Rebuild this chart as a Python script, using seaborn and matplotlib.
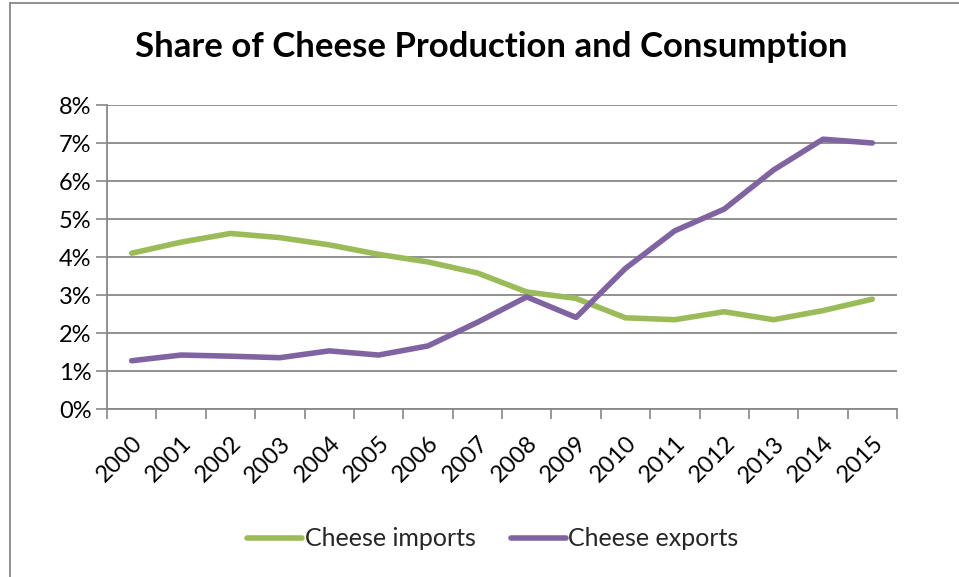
import matplotlib
matplotlib.use("Agg")
import matplotlib.pyplot as plt
import seaborn as sns
import pandas as pd
import numpy as np
from matplotlib.lines import Line2D
from matplotlib.ticker import FuncFormatter, FixedLocator

years = [str(y) for y in range(2000, 2016)]
imports = [4.10, 4.39, 4.62, 4.51, 4.32, 4.07, 3.87, 3.58, 3.08, 2.91, 2.40, 2.35, 2.56, 2.35, 2.59, 2.89]
exports = [1.27, 1.42, 1.39, 1.35, 1.53, 1.42, 1.66, 2.28, 2.95, 2.41, 3.70, 4.69, 5.26, 6.29, 7.10, 7.00]
series_names = ["Cheese imports", "Cheese exports"]
colors = ["#9BBB59", "#8064A2"]
title = "Share of Cheese Production and Consumption"
yticks = list(range(0, 9))

df = pd.DataFrame({
    "pos": list(range(len(years))) * 2,
    "value": imports + exports,
    "series": [series_names[0]] * len(years) + [series_names[1]] * len(years),
})

sns.set_theme(style="white")
plt.rcParams["font.family"] = ["Lato", "DejaVu Sans"]

fig = plt.figure(figsize=(9.59, 5.77), dpi=100)
ax = fig.add_axes([107/959, 1 - 409/577, (897-107)/959, (409-105)/577])

sns.lineplot(data=df, x="pos", y="value", hue="series", palette=colors,
             linewidth=4.0, ax=ax, legend=False, solid_capstyle="round")

ax.set_xlim(-0.5, len(years) - 0.5)
ax.set_ylim(0, 8)
ax.set_yticks(yticks)
ax.yaxis.set_major_formatter(FuncFormatter(lambda v, p: f"{int(v)}%"))
ax.grid(axis="y", color="#888888", linewidth=1.3)
ax.set_axisbelow(True)

# x: labels at category centres, tick marks at boundaries
ax.set_xticks(range(len(years)))
ax.set_xticklabels(years, rotation=45, ha="right", rotation_mode="anchor")
ax.xaxis.set_minor_locator(FixedLocator(np.arange(-0.5, len(years), 1.0)))
ax.tick_params(axis="x", which="major", length=0, pad=17, labelsize=17, colors="black")
ax.tick_params(axis="x", which="minor", length=7, width=1.2, color="#888888", direction="out", bottom=True)
ax.tick_params(axis="y", which="major", length=8, width=1.2, color="#888888", direction="out",
               left=True, labelsize=17, pad=3, labelcolor="black")
ax.set_xlabel("")
ax.set_ylabel("")

for s in ["top", "right"]:
    ax.spines[s].set_visible(False)
for s in ["left", "bottom"]:
    ax.spines[s].set_color("#888888")
    ax.spines[s].set_linewidth(1.3)

fig.text(491/959, 1 - 47/577, title, ha="center", va="center",
         fontsize=25, fontweight="bold", color="black")

handles = [Line2D([0], [0], color=c, lw=4.0, solid_capstyle="round") for c in colors]
fig.legend(handles, series_names, loc="center", bbox_to_anchor=(493/959, 1 - 539/577),
           ncol=2, frameon=False, fontsize=18, handlelength=2.2, handletextpad=0.1,
           columnspacing=1.4)

# chart border (left and top edges visible)
fig.add_artist(Line2D([9.5/959, 9.5/959], [0, 1 - 3/577], transform=fig.transFigure,
                      color="#888888", lw=1.3))
fig.add_artist(Line2D([9.5/959, 1], [1 - 3/577, 1 - 3/577], transform=fig.transFigure,
                      color="#888888", lw=1.3))

fig.savefig("out.png", dpi=100)
